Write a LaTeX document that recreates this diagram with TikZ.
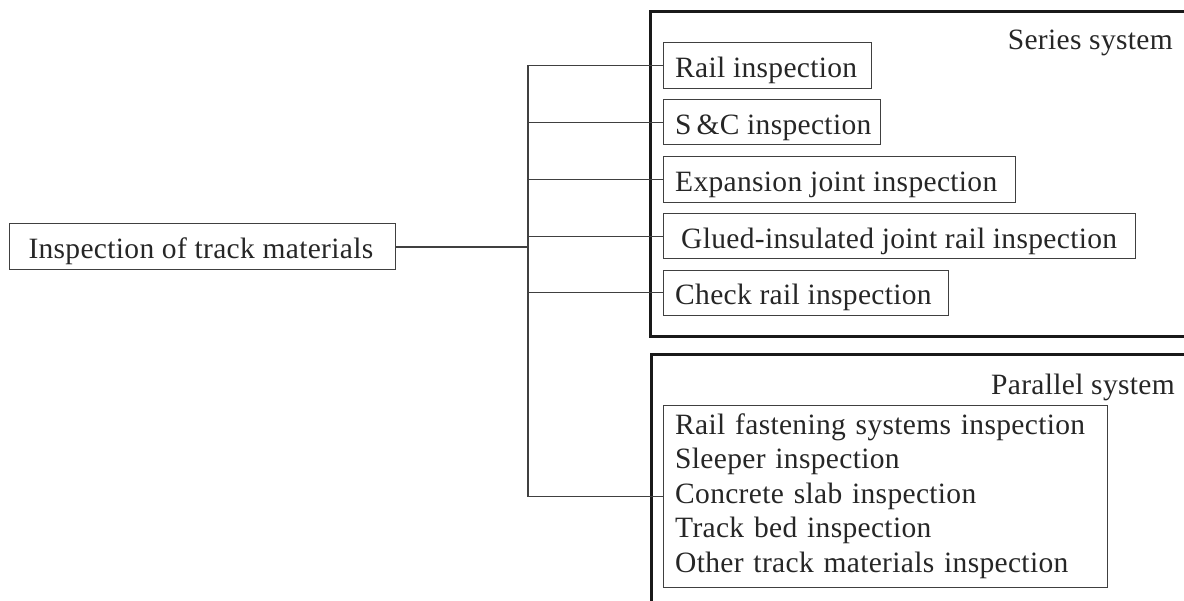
\documentclass[tikz,border=0pt]{standalone}
\usepackage{fontspec}
\setmainfont[LetterSpace=1.1]{Liberation Serif}
\newcommand{\lineof}[2]{\makebox[#1][l]{#2}}
\begin{document}
\begin{tikzpicture}[x=1pt,y=-1pt,
  txt/.style={text=black!85, font=\fontsize{29.5}{34.5}\selectfont},
  box/.style={txt, draw=black!75, line width=1pt, anchor=west, inner xsep=12pt, inner ysep=0pt,
              minimum height=45.6pt, text height=27pt, text depth=3pt},
  listbox/.style={txt, draw=black!75, line width=1pt, anchor=west, inner xsep=12pt, inner ysep=0pt,
              minimum height=182.3pt, align=left},
  sysframe/.style={draw=black!90, line width=3pt},
  conn/.style={draw=black!75, line width=1.1pt},
  lbl/.style={txt, anchor=base east, inner sep=0pt}]
\useasboundingbox (0,0) rectangle (1184,601);

% root
\node[box, inner xsep=19pt, minimum height=46pt] (root) at (9,247) {\lineof{348pt}{Inspection of track materials}};

% system frames (cut by the picture edge)
\draw[sysframe] (1186,12) -- (650,12) -- (650,337) -- (1186,337);
\draw[sysframe] (1186,354.5) -- (651,354.5) -- (651,603);
\node[lbl] (serlbl) at (1173,50) {Series system};
\node[lbl] (parlbl) at (1175,395) {Parallel system};

% series items
\node[box] (rail)  at (662.7,65.5)  {\lineof{184pt}{Rail inspection}};
\node[box] (sc)    at (662.7,122.2) {\lineof{193.3pt}{S\,\&C inspection}};
\node[box] (exp)   at (662.7,179.5) {\lineof{328.3pt}{Expansion joint inspection}};
\node[box] (glued) at (662.7,236.2) {\lineof{448.3pt}{\hspace*{6pt}Glued-insulated joint rail inspection}};
\node[box] (check) at (662.7,292.9) {\lineof{261.6pt}{Check rail inspection}};

% parallel items
\node[listbox, text width=420pt] (par) at (662.7,496.2) {Rail fastening systems inspection\\
Sleeper inspection\\
Concrete slab inspection\\
Track bed inspection\\
Other track materials inspection};

% connectors
\coordinate (bus) at (528,247);
\draw[conn] (root.east) -- (bus);
\foreach \n in {rail,sc,exp,glued,check,par} {
  \draw[conn] (bus) |- (\n.west);
}
\end{tikzpicture}
\end{document}
